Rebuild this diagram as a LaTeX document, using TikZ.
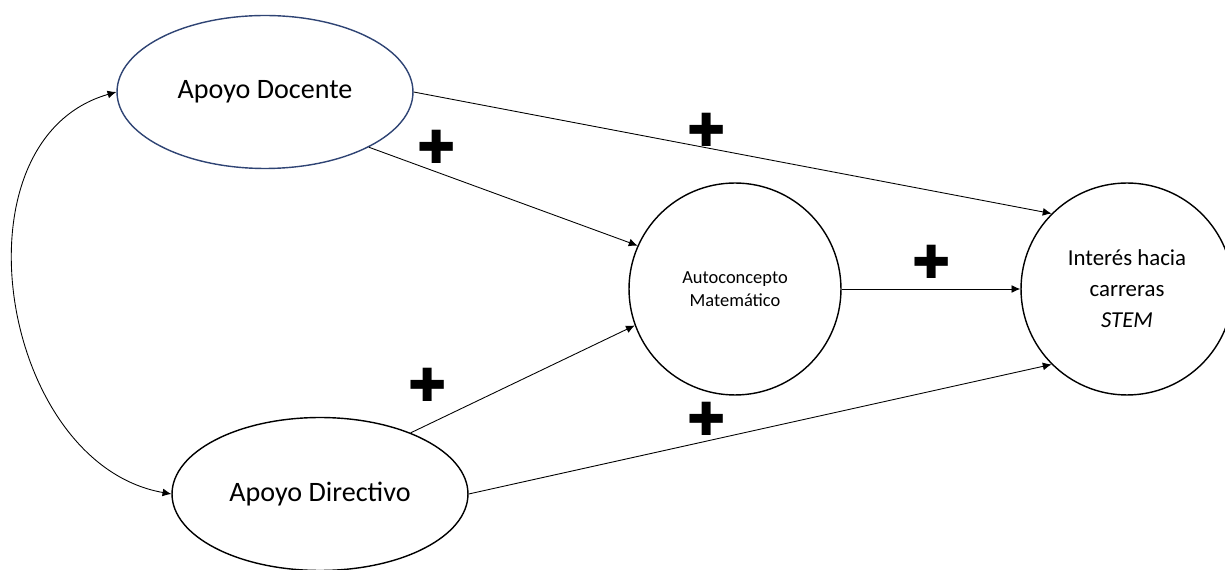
\documentclass[tikz,border=0pt]{standalone}
\usepackage{fontspec}
\setmainfont{Carlito}
\newfontfamily\symfont{DejaVu Sans}
\usetikzlibrary{arrows.meta,positioning,shapes.geometric}

\definecolor{docblue}{RGB}{47,68,116}

\tikzset{
  factor/.style={ellipse, draw, line width=0.8pt, minimum width=5.92cm, minimum height=3.06cm, inner sep=0pt, font=\fontsize{16}{19}\selectfont},
  latent/.style={circle, draw, line width=0.8pt, minimum size=4.24cm, inner sep=0pt, align=center},
  plusmk/.style={font=\symfont\fontsize{26}{26}\selectfont, inner sep=0pt}
}

\begin{document}
\begin{tikzpicture}[x=0.02cm, y=-0.02cm, >={Latex[length=5pt,width=4.5pt]}]
\useasboundingbox (0,0) rectangle (1225,570);
\node[factor, draw=docblue] (doc) at (265,92) {Apoyo Docente};
\node[factor] (dir) at (320,494) {Apoyo Directivo};
\node[latent, font=\fontsize{10.5}{13}\selectfont] (auto) at (735,289) {Autoconcepto\\Matemático};
\node[latent, font=\fontsize{13}{17.6}\selectfont] (stem) at (1127,289) {Interés hacia\\carreras\\\textit{STEM}};

\path[->, line width=0.5pt]
  (doc.east) edge (stem.135)
  (doc.-28) edge (auto.156)
  (dir.34) edge (auto.200)
  (dir.east) edge (stem.225)
  (auto.east) edge (stem.west);
\draw[<->, line width=0.5pt] (dir.west) to[out=170, in=196, looseness=1.1] (doc.west);

% signos positivos
\node[plusmk] (pl1) at (437,147) {✚};
\node[plusmk] (pl2) at (707,130) {✚};
\node[plusmk] (pl3) at (932,262) {✚};
\node[plusmk] (pl4) at (428,385) {✚};
\node[plusmk] (pl5) at (707,419) {✚};
\end{tikzpicture}
\end{document}
